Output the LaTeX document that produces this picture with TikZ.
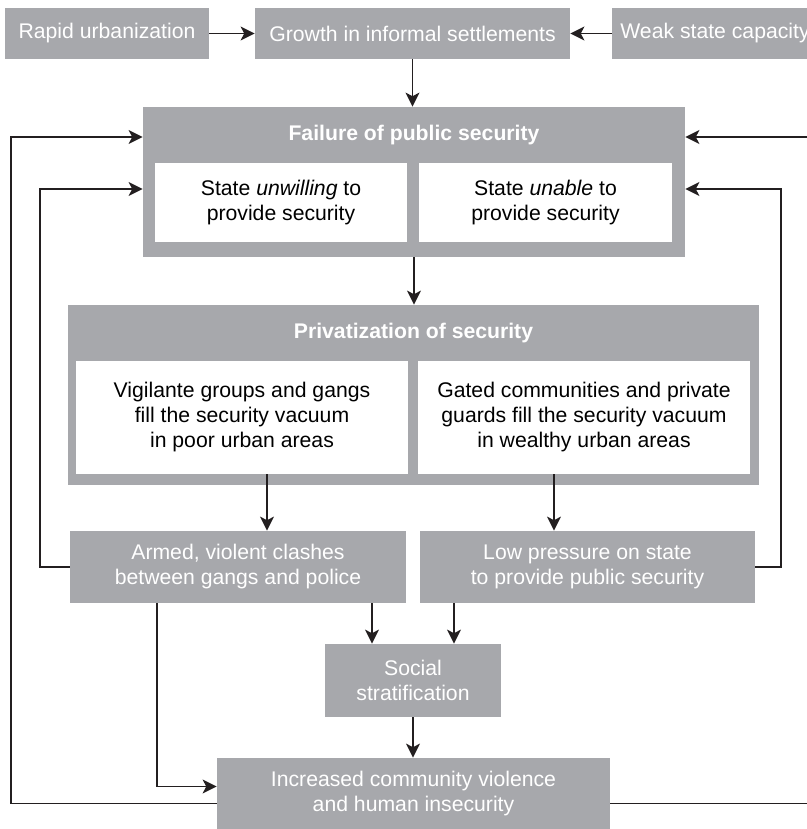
\documentclass[tikz,border=0pt]{standalone}
\usepackage{fontspec}
\setmainfont{Liberation Sans}
\usepackage{tikz}
\usetikzlibrary{arrows.meta}
\definecolor{boxgray}{HTML}{A7A8AC}
\definecolor{linegray}{HTML}{231F20}
\tikzstyle{gray box}  = [rectangle,fill=boxgray,text=white,inner sep=0,align=center]
\tikzstyle{white box} = [rectangle,fill=white,text=black,inner sep=0,align=center]
\tikzstyle{head text} = [text=white,font=\fontsize{10.6}{12.5}\selectfont\bfseries]

\begin{document}
\begin{tikzpicture}[x=0.5pt, y=-0.5pt,
                    font=\fontsize{10.6}{12.5}\selectfont,
                    arrow/.style={draw=linegray, line width=0.65pt, -{Stealth[length=7pt,width=7pt,inset=1.8pt]}}
                    ]
    \useasboundingbox (0,0) rectangle (807,829);
    \clip (0,0) rectangle (807,829);

    \node(rapid)[gray box, minimum width=102pt, minimum height=25.5pt] at (107,33.5) {Rapid urbanization};
    \node(growth)[gray box, minimum width=157.5pt, minimum height=25.5pt] at (412.5,33.5) {Growth in informal settlements};
    \node(weak)[gray box, minimum width=103pt, minimum height=25.5pt] at (715,33.5) {Weak state capacity};

    \node(failure)[gray box, minimum width=271pt, minimum height=75pt] at (414,182) {};
    \node(failurehead)[head text] at (414,135) {Failure of public security};
    \node(unwilling)[white box, minimum width=126pt, minimum height=39.5pt] at (281,202.5) {State \textit{unwilling} to\\provide security};
    \node(unable)[white box, minimum width=126.5pt, minimum height=39.5pt] at (545.5,202.5) {State \textit{unable} to\\provide security};

    \node(privat)[gray box, minimum width=345.5pt, minimum height=90pt] at (413.5,395) {};
    \node(privathead)[head text] at (413.5,333) {Privatization of security};
    \node(vigilante)[white box, minimum width=166pt, minimum height=56.5pt] at (242,417.5) {Vigilante groups and gangs\\fill the security vacuum\\in poor urban areas};
    \node(gated)[white box, minimum width=166pt, minimum height=56.5pt] at (584,417.5) {Gated communities and private\\guards fill the security vacuum\\in wealthy urban areas};

    \node(armed)[gray box, minimum width=168pt, minimum height=36pt] at (238,567) {Armed, violent clashes\\between gangs and police};
    \node(lowpress)[gray box, minimum width=167.5pt, minimum height=36pt] at (587.5,567) {Low pressure on state\\to provide public security};
    \node(social)[gray box, minimum width=88pt, minimum height=36.5pt] at (413,680.5) {Social\\stratification};
    \node(increased)[gray box, minimum width=196.5pt, minimum height=35.5pt] at (413.5,793.5) {Increased community violence\\and human insecurity};

    \coordinate(outerW) at (11,0);
    \coordinate(innerW) at (40,0);
    \coordinate(innerE) at (781,0);
    \coordinate(outerE) at (830,0);

    \draw[arrow] (rapid) -- (growth);
    \draw[arrow] (weak) -- (growth);
    \draw[arrow] (growth.south) -- (growth.south |- failure.north);
    \draw[arrow] (failure.south) -- (failure.south |- privat.north);
    \draw[arrow] ([xshift=12.5pt]vigilante.south) -- ([xshift=12.5pt]vigilante.south |- armed.north);
    \draw[arrow] ([xshift=-15pt]gated.south) -- ([xshift=-15pt]gated.south |- lowpress.north);
    \draw[arrow] ([xshift=-20.5pt]social.north |- armed.south) -- ([xshift=-20.5pt]social.north);
    \draw[arrow] ([xshift=20.5pt]social.north |- lowpress.south) -- ([xshift=20.5pt]social.north);
    \draw[arrow] (social.south) -- (social.south |- increased.north);
    \draw[arrow] ([xshift=-40.5pt]armed.south) |- ([yshift=3.5pt]increased.west);

    \draw[arrow] (armed.west) -- (armed.west -| innerW) -- ([yshift=-3.5pt]failure.west -| innerW) -- ([yshift=-3.5pt]failure.west);
    \draw[arrow] (lowpress.east) -- (lowpress.east -| innerE) -- ([yshift=-3.5pt]failure.east -| innerE) -- ([yshift=-3.5pt]failure.east);
    \draw[arrow] ([yshift=-5pt]increased.west) -- ([yshift=-5pt]increased.west -| outerW) -- ([yshift=22.5pt]failure.west -| outerW) -- ([yshift=22.5pt]failure.west);
    \draw[arrow] ([yshift=-5pt]increased.east) -- ([yshift=-5pt]increased.east -| outerE) -- ([yshift=22.5pt]failure.east -| outerE) -- ([yshift=22.5pt]failure.east);

\end{tikzpicture}
\end{document}
